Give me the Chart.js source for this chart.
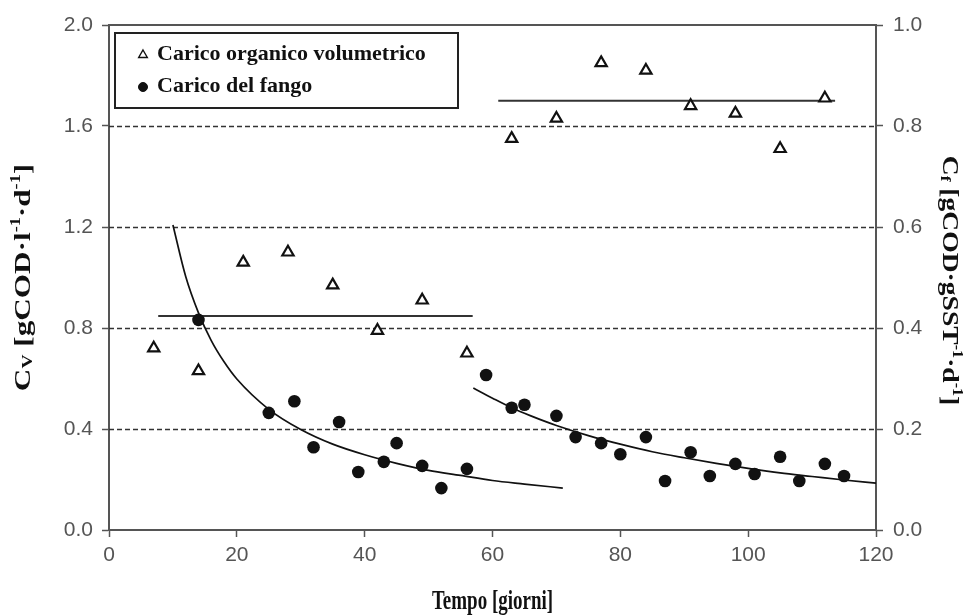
<!DOCTYPE html>
<html>
<head>
<meta charset="utf-8">
<script src="https://cdn.jsdelivr.net/npm/chart.js@4/dist/chart.umd.min.js"></script>
<style>
  html, body { margin: 0; padding: 0; background: #ffffff; }
  #wrap { width: 966px; height: 615px; position: relative; }
</style>
</head>
<body>
<div id="wrap"><canvas id="chart" width="966" height="615"></canvas></div>
<script>
// Axis ticks
const dayTicks = [0, 20, 40, 60, 80, 100, 120];
const cvTicks = [0.0, 0.4, 0.8, 1.2, 1.6, 2.0];
const cfTicks = [0.0, 0.2, 0.4, 0.6, 0.8, 1.0];

// Carico organico volumetrico (Cv, left axis)
const cvDays = [7, 14, 21, 28, 35, 42, 49, 56, 63, 70, 77, 84, 91, 98, 105, 112];
const cvValues = [0.72, 0.63, 1.06, 1.10, 0.97, 0.79, 0.91, 0.70, 1.55, 1.63, 1.85, 1.82, 1.68, 1.65, 1.51, 1.71];

// Carico del fango (Cf, right axis)
const cfDays = [14, 25, 29, 32, 36, 39, 43, 45, 49, 52, 56, 59, 63, 65, 70, 73, 77, 80, 84, 87, 91, 94, 98, 101, 105, 108, 112, 115];
const cfValues = [0.416, 0.232, 0.255, 0.164, 0.214, 0.115, 0.135, 0.172, 0.127, 0.083, 0.121, 0.307, 0.242, 0.248, 0.226, 0.184, 0.172, 0.150, 0.184, 0.097, 0.154, 0.107, 0.131, 0.111, 0.145, 0.097, 0.131, 0.107];

// Mean Cv for each period
const mean1Days = [7.7, 56.9];
const mean1Cv = [0.848, 0.848];
const mean2Days = [60.9, 113.6];
const mean2Cv = [1.70, 1.70];

// Cf trend curves for each period
const trend1Days = [10, 12, 14, 16, 18, 20, 25, 30, 35, 40, 45, 50, 55, 60, 65, 71];
const trend1Cf = [0.604, 0.502, 0.430, 0.375, 0.333, 0.299, 0.239, 0.199, 0.170, 0.149, 0.132, 0.118, 0.108, 0.098, 0.091, 0.083];
const trend2Days = [57, 60, 63, 66, 70, 75, 80, 85, 90, 95, 100, 105, 110, 115, 120];
const trend2Cf = [0.281, 0.261, 0.242, 0.226, 0.207, 0.187, 0.170, 0.155, 0.143, 0.132, 0.122, 0.113, 0.106, 0.099, 0.093];

// Dotted reference levels on the Cv axis
const gridLevels = [0.4, 0.8, 1.2, 1.6];

const pts = (xs, ys) => xs.map((x, i) => ({ x: x, y: ys[i] }));

const tickFont = { family: "'Liberation Sans', Arial, sans-serif", size: 21 };
const tickColor = '#555555';
const axisColor = '#555555';
const serif = "'Liberation Serif', 'Times New Roman', serif";

// Draws a run of text pieces (with sub/superscripts) centred at (cx, cy)
function drawRich(ctx, parts, cx, cy, rot, kx, ky) {
  ctx.save();
  ctx.translate(cx, cy);
  ctx.rotate(rot);
  ctx.scale(kx, ky);
  ctx.fillStyle = '#111111';
  ctx.textBaseline = 'alphabetic';
  ctx.textAlign = 'left';
  let total = 0;
  parts.forEach(p => {
    ctx.font = 'bold ' + p.s + 'px ' + serif;
    p.w = ctx.measureText(p.t).width;
    total += p.w;
  });
  let x = -total / 2;
  const base = parts[0].s * 0.33;
  parts.forEach(p => {
    ctx.font = 'bold ' + p.s + 'px ' + serif;
    ctx.fillText(p.t, x, base + (p.dy || 0));
    x += p.w;
  });
  ctx.restore();
}

const decorPlugin = {
  id: 'decor',
  beforeDatasetsDraw(chart) {
    const { ctx, chartArea: a, scales } = chart;
    ctx.save();
    // dotted horizontal levels
    ctx.strokeStyle = '#333333';
    ctx.lineWidth = 1.6;
    ctx.setLineDash([5, 3]);
    gridLevels.forEach(v => {
      const y = Math.round(scales.y.getPixelForValue(v)) + 0.5;
      ctx.beginPath();
      ctx.moveTo(a.left, y);
      ctx.lineTo(a.right, y);
      ctx.stroke();
    });
    ctx.setLineDash([]);
    // top frame line
    ctx.strokeStyle = axisColor;
    ctx.lineWidth = 2;
    ctx.beginPath();
    ctx.moveTo(a.left - 1, a.top);
    ctx.lineTo(a.right + 1, a.top);
    ctx.stroke();
    ctx.restore();
  },
  afterDraw(chart) {
    const { ctx, chartArea: a } = chart;
    ctx.save();
    // legend box
    const bx = a.left + 6, by = a.top + 8, bw = 343, bh = 75;
    ctx.fillStyle = '#ffffff';
    ctx.fillRect(bx, by, bw, bh);
    ctx.strokeStyle = '#222222';
    ctx.lineWidth = 2;
    ctx.strokeRect(bx, by, bw, bh);
    const rows = [
      { y: by + 21, style: 'triangle', fill: '#ffffff', label: 'Carico organico volumetrico' },
      { y: by + 53, style: 'circle', fill: '#111111', label: 'Carico del fango' }
    ];
    rows.forEach(r => {
      ctx.fillStyle = r.fill;
      ctx.strokeStyle = '#111111';
      ctx.lineWidth = r.style === 'triangle' ? 1.4 : 1;
      Chart.helpers.drawPoint(ctx, { pointStyle: r.style, radius: r.style === 'triangle' ? 5 : 4.5, borderWidth: 1 }, bx + 28, r.y + 1);
      ctx.fillStyle = '#111111';
      ctx.font = 'bold 22px ' + serif;
      ctx.textBaseline = 'middle';
      ctx.textAlign = 'left';
      ctx.fillText(r.label, bx + 42, r.y);
    });
    // axis titles
    drawRich(ctx, [{ t: 'Tempo [giorni]', s: 19 }], (a.left + a.right) / 2, 600, 0, 1, 1.4);
    drawRich(ctx, [
      { t: 'C', s: 24 }, { t: 'V', s: 15, dy: 2 },
      { t: ' [gCOD\u00B7l', s: 24 }, { t: '-1', s: 14, dy: -10 },
      { t: '\u00B7d', s: 24 }, { t: '-1', s: 14, dy: -10 }, { t: ']', s: 24 }
    ], 22, (a.top + a.bottom) / 2, -Math.PI / 2, 1.3, 1);
    drawRich(ctx, [
      { t: 'C', s: 24 }, { t: 'f', s: 15, dy: 2 },
      { t: ' [gCOD\u00B7gSST', s: 24 }, { t: '-1', s: 14, dy: -10 },
      { t: '\u00B7d', s: 24 }, { t: '-1', s: 14, dy: -10 }, { t: ']', s: 24 }
    ], 951, (a.top + a.bottom) / 2 + 3, Math.PI / 2, 1.15, 1);
    ctx.restore();
  }
};

new Chart(document.getElementById('chart'), {
  type: 'line',
  data: {
    datasets: [
      {
        label: 'Carico organico volumetrico',
        data: pts(cvDays, cvValues),
        yAxisID: 'y',
        showLine: false,
        pointStyle: 'triangle',
        pointRadius: 6.5,
        pointBorderWidth: 2.2,
        pointBackgroundColor: '#ffffff',
        pointBorderColor: '#111111',
        order: 1
      },
      {
        label: 'Carico del fango',
        data: pts(cfDays, cfValues),
        yAxisID: 'y2',
        showLine: false,
        pointStyle: 'circle',
        pointRadius: 6.3,
        pointBorderWidth: 0,
        pointBackgroundColor: '#111111',
        pointBorderColor: '#111111',
        order: 0
      },
      {
        label: 'media 1',
        data: pts(mean1Days, mean1Cv),
        yAxisID: 'y',
        borderColor: '#333333',
        borderWidth: 2,
        pointRadius: 0,
        order: 2
      },
      {
        label: 'media 2',
        data: pts(mean2Days, mean2Cv),
        yAxisID: 'y',
        borderColor: '#333333',
        borderWidth: 2,
        pointRadius: 0,
        order: 2
      },
      {
        label: 'andamento 1',
        data: pts(trend1Days, trend1Cf),
        yAxisID: 'y2',
        borderColor: '#111111',
        borderWidth: 1.7,
        pointRadius: 0,
        cubicInterpolationMode: 'monotone',
        order: 2
      },
      {
        label: 'andamento 2',
        data: pts(trend2Days, trend2Cf),
        yAxisID: 'y2',
        borderColor: '#111111',
        borderWidth: 1.7,
        pointRadius: 0,
        cubicInterpolationMode: 'monotone',
        order: 2
      }
    ]
  },
  options: {
    responsive: false,
    animation: false,
    clip: false,
    layout: { padding: { top: 25, left: 0, right: 0, bottom: 0 } },
    plugins: { legend: { display: false }, tooltip: { enabled: false } },
    scales: {
      x: {
        type: 'linear',
        min: 0, max: 120,
        afterBuildTicks: s => { s.ticks = dayTicks.map(v => ({ value: v })); },
        afterFit: s => { s.height = 85; },
        ticks: { font: tickFont, color: tickColor, padding: 6, maxRotation: 0 },
        grid: { drawOnChartArea: false, drawTicks: true, tickLength: 7, color: axisColor, tickWidth: 1.5 },
        border: { display: true, color: axisColor, width: 2 }
      },
      y: {
        position: 'left',
        min: 0, max: 2,
        afterBuildTicks: s => { s.ticks = cvTicks.map(v => ({ value: v })); },
        afterFit: s => { s.width = 109; },
        ticks: { font: tickFont, color: tickColor, padding: 9, callback: v => Number(v).toFixed(1) },
        grid: { drawOnChartArea: false, drawTicks: true, tickLength: 7, color: axisColor, tickWidth: 1.5 },
        border: { display: true, color: axisColor, width: 2 }
      },
      y2: {
        position: 'right',
        min: 0, max: 1,
        afterBuildTicks: s => { s.ticks = cfTicks.map(v => ({ value: v })); },
        afterFit: s => { s.width = 90; },
        ticks: { font: tickFont, color: tickColor, padding: 10, callback: v => Number(v).toFixed(1) },
        grid: { drawOnChartArea: false, drawTicks: true, tickLength: 7, color: axisColor, tickWidth: 1.5 },
        border: { display: true, color: axisColor, width: 2 }
      }
    }
  },
  plugins: [decorPlugin]
});
</script>
</body>
</html>
